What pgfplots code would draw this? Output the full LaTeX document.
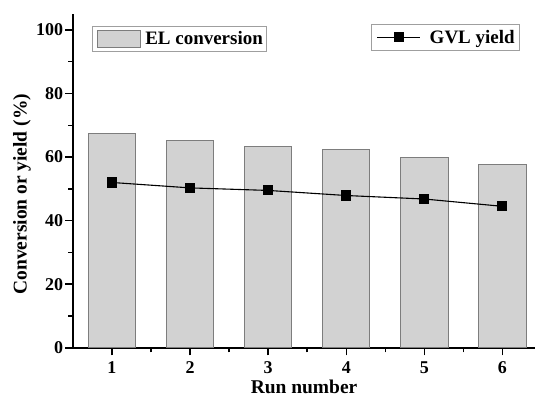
\documentclass[border=0pt]{standalone}
\usepackage{pgfplots}
\pgfplotsset{compat=1.18}
\usepackage{fontspec}
\setmainfont{Liberation Serif}
\definecolor{barfill}{RGB}{210,210,210}
\definecolor{baredge}{RGB}{125,125,125}
\begin{document}
\begin{tikzpicture}
\pgfplotsset{
  common/.style={
    scale only axis, width=463pt, height=334.3pt,
    xmin=0.5, xmax=6.42, ymin=0, ymax=105,
  },
  legstyle/.style={draw=gray!75, line width=0.8pt,
    font=\fontsize{19}{22}\selectfont\bfseries,
    inner xsep=4pt, inner ysep=4pt,
    nodes={inner sep=0pt}, column sep=5pt},
}
\begin{axis}[common,
  axis x line=bottom, axis y line=left,
  axis line style={line width=1.5pt,-},
  xtick={1,2,3,4,5,6}, minor xtick={1.5,2.5,3.5,4.5,5.5},
  ytick={0,20,40,60,80,100}, minor ytick={10,30,50,70,90},
  tick style={line width=1.5pt,black},
  major tick length=7.5pt, minor tick length=4.5pt,
  tick align=outside,
  ticklabel style={font=\fontsize{18}{21}\selectfont\bfseries, inner sep=2pt},
  xticklabel style={yshift=-4pt},
  /pgf/number format/assume math mode=true,
  xlabel={Run number}, ylabel={Conversion or yield (\%)},
  label style={font=\fontsize{19.5}{23}\selectfont\bfseries},
  xlabel style={at={(axis description cs:0.5,0)}, anchor=center, yshift=-39pt},
  ylabel style={at={(axis description cs:-0.11,0.46)}, anchor=center},
  legend style={legstyle, at={(0.0417,0.965)}, anchor=north west},
  legend cell align=left,
]
\addplot[ybar, bar width=47.3pt, fill=barfill, draw=baredge, line width=0.8pt,
  legend image code/.code={\draw[fill=barfill,draw=baredge,line width=0.8pt] (0pt,-8.5pt) rectangle (43pt,8.5pt);}]
  coordinates {(1,67.4) (2,65.1) (3,63.2) (4,62.3) (5,60.0) (6,57.8)};
\addlegendentry{EL conversion}
\end{axis}
\begin{axis}[common, axis lines=none,
  legend style={legstyle, at={(0.967,0.970)}, anchor=north east, column sep=9pt, inner xsep=5pt, inner ysep=5.5pt},
]
\addplot[black, line width=1.1pt, mark=square*, mark size=4.5pt,
  legend image code/.code={\draw[black, line width=1.1pt] (0pt,0pt) -- (43pt,0pt); \fill[black] (17pt,-4.5pt) rectangle (26pt,4.5pt);}]
  coordinates {(1,52.0) (2,50.3) (3,49.5) (4,47.9) (5,46.8) (6,44.5)};
\addlegendentry{GVL yield}
\end{axis}
\path (current axis.south west) ++(-73pt,-45.7pt) rectangle ++(536pt,394pt);
\end{tikzpicture}
\end{document}
